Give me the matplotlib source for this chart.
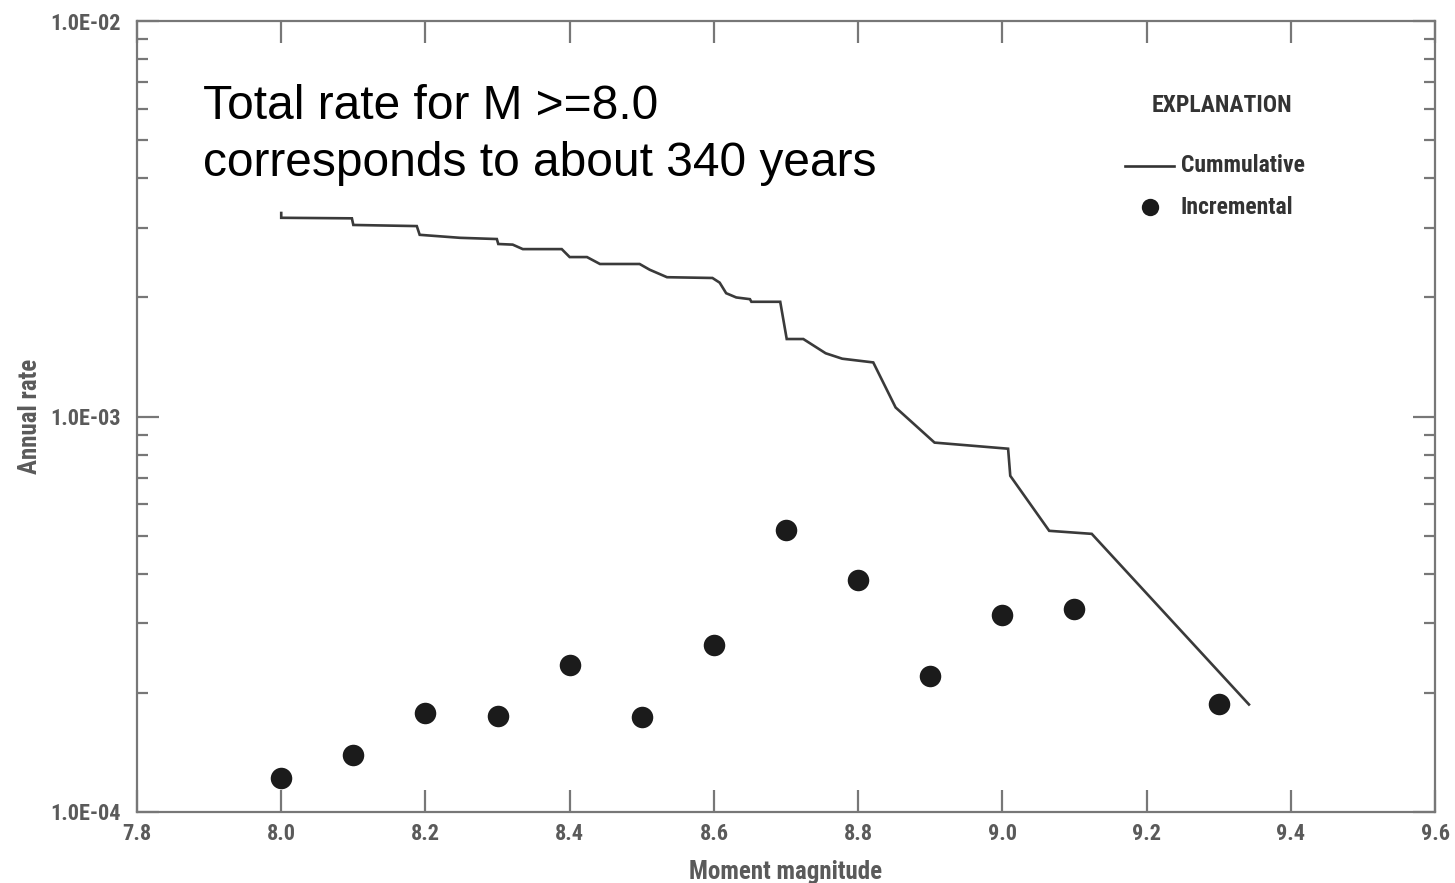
import matplotlib
matplotlib.use("Agg")
import matplotlib.pyplot as plt
from matplotlib import font_manager
from matplotlib.ticker import FixedLocator, LogLocator, NullFormatter, FixedFormatter

# ---- data ----
cum_mag = [8.000, 8.000, 8.098, 8.100, 8.188, 8.192, 8.248, 8.299, 8.301, 8.321,
           8.335, 8.389, 8.400, 8.424, 8.442, 8.497, 8.511, 8.535, 8.598, 8.608,
           8.617, 8.631, 8.650, 8.652, 8.692, 8.701, 8.724, 8.755, 8.778, 8.821,
           8.852, 8.906, 9.008, 9.011, 9.065, 9.124, 9.342]
cum_rate = [3.27e-3, 3.18e-3, 3.17e-3, 3.05e-3, 3.03e-3, 2.88e-3, 2.83e-3, 2.81e-3,
            2.73e-3, 2.72e-3, 2.65e-3, 2.65e-3, 2.53e-3, 2.53e-3, 2.43e-3, 2.43e-3,
            2.35e-3, 2.25e-3, 2.24e-3, 2.18e-3, 2.05e-3, 2.00e-3, 1.98e-3, 1.95e-3,
            1.95e-3, 1.57e-3, 1.57e-3, 1.445e-3, 1.40e-3, 1.37e-3, 1.054e-3, 8.59e-4,
            8.29e-4, 7.08e-4, 5.14e-4, 5.05e-4, 1.87e-4]

inc_mag = [8.0, 8.1, 8.2, 8.3, 8.4, 8.5, 8.6, 8.7, 8.8, 8.9, 9.0, 9.1, 9.3]
inc_rate = [1.22e-4, 1.395e-4, 1.78e-4, 1.75e-4, 2.35e-4, 1.74e-4, 2.65e-4,
            5.17e-4, 3.86e-4, 2.21e-4, 3.14e-4, 3.26e-4, 1.88e-4]

x_ticks = [7.8, 8.0, 8.2, 8.4, 8.6, 8.8, 9.0, 9.2, 9.4, 9.6]
x_tick_labels = ["7.8", "8.0", "8.2", "8.4", "8.6", "8.8", "9.0", "9.2", "9.4", "9.6"]
y_ticks = [1e-4, 1e-3, 1e-2]
y_tick_labels = ["1.0E-04", "1.0E-03", "1.0E-02"]

annotation = "Total rate for M >=8.0\ncorresponds to about 340 years"

# ---- fonts ----
avail = {f.name for f in font_manager.fontManager.ttflist}
cond = next((f for f in ["Liberation Sans Narrow", "Roboto Condensed", "DejaVu Sans"] if f in avail), "DejaVu Sans")
sans = next((f for f in ["Liberation Sans", "Arial", "DejaVu Sans"] if f in avail), "DejaVu Sans")

gray = "#5a5a5a"
spine = "#777777"

fig = plt.figure(figsize=(14.55, 8.83), dpi=100)
ax = fig.add_axes([137/1455, 1 - 812/883, (1435-137)/1455, (812-21)/883])

ax.plot(cum_mag, cum_rate, color="#3a3a3a", lw=1.9, solid_joinstyle="miter")
ax.plot(inc_mag, inc_rate, "o", color="#1b1b1b", markersize=15.5, markeredgewidth=0)

ax.set_yscale("log")
ax.set_xlim(7.8, 9.6)
ax.set_ylim(1e-4, 1e-2)

ax.xaxis.set_major_locator(FixedLocator(x_ticks))
ax.xaxis.set_major_formatter(FixedFormatter(x_tick_labels))
ax.yaxis.set_major_locator(FixedLocator(y_ticks))
ax.yaxis.set_major_formatter(FixedFormatter(y_tick_labels))
ax.yaxis.set_minor_locator(LogLocator(base=10, subs=range(2, 10)))
ax.yaxis.set_minor_formatter(NullFormatter())

for s in ax.spines.values():
    s.set_color(spine)
    s.set_linewidth(1.6)

ax.tick_params(axis="x", which="major", direction="in", length=16, width=1.6,
               color=spine, top=True, bottom=True, pad=8, labelsize=16,
               labelcolor=gray)
ax.tick_params(axis="y", which="major", direction="in", length=16, width=1.6,
               color=spine, left=True, right=True, pad=12, labelsize=16,
               labelcolor=gray)
ax.tick_params(axis="y", which="minor", direction="in", length=8, width=1.6,
               color=spine, left=True, right=True)
for lab in ax.get_xticklabels() + ax.get_yticklabels():
    lab.set_family(cond)
    lab.set_fontweight("bold")

ax.set_xlabel("Moment magnitude", family=cond, fontsize=18, color=gray,
              fontweight="bold", labelpad=11)
ax.set_ylabel("Annual rate", family=cond, fontsize=18, color=gray,
              fontweight="bold")
ax.yaxis.set_label_coords((42 - 137) / 1298, 0.5)

fig.text(203/1455, 1 - 84/883, annotation, family=sans, fontsize=34.5,
         color="black", ha="left", va="top", linespacing=1.33)

# legend ("EXPLANATION")
lc = "#333333"
fig.text(1222/1455, 1 - 105/883, "EXPLANATION", family=cond, fontsize=17,
         fontweight="bold", color=lc, ha="center", va="center")
fig.add_artist(plt.Line2D([1125/1455, 1174/1455], [1 - 166/883, 1 - 166/883],
                          color=lc, lw=1.9))
fig.text(1181/1455, 1 - 166/883, "Cummulative", family=cond, fontsize=17,
         fontweight="bold", color=lc, ha="left", va="center")
fig.add_artist(plt.Line2D([1150/1455], [1 - 207/883], marker="o", color="#1b1b1b",
                          markersize=12.5, markeredgewidth=0, lw=0))
fig.text(1181/1455, 1 - 207/883, "Incremental", family=cond, fontsize=17,
         fontweight="bold", color=lc, ha="left", va="center")

fig.savefig("out.png", dpi=100)
